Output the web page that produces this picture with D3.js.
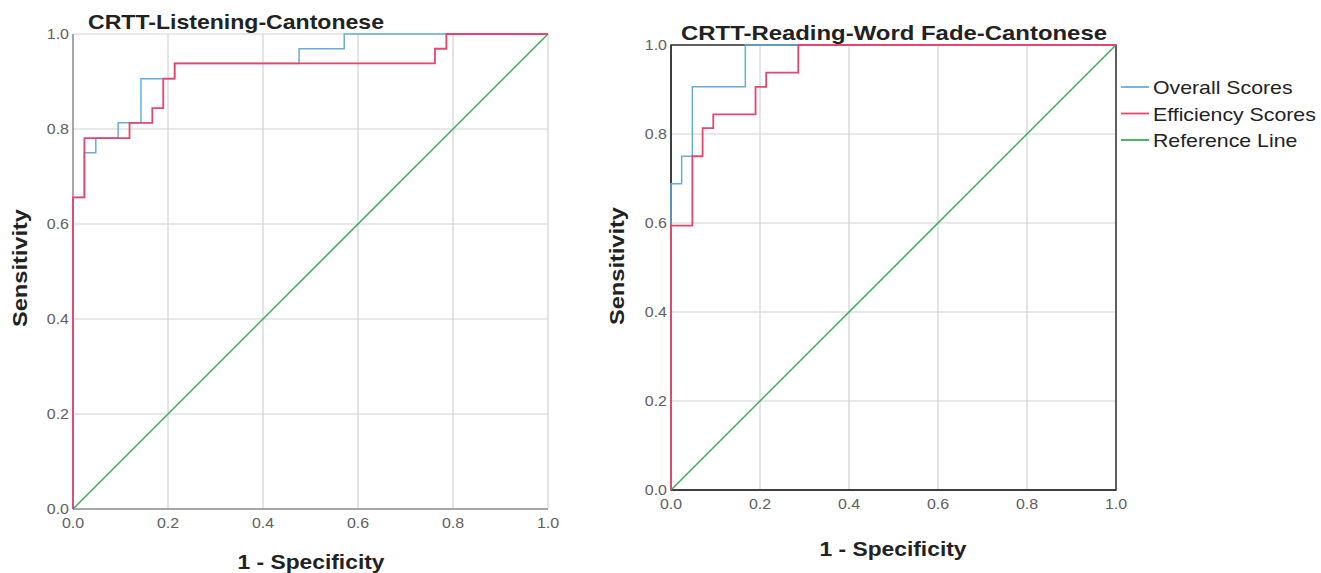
<!DOCTYPE html>
<html>
<head>
<meta charset="utf-8">
<script src="https://cdn.jsdelivr.net/npm/d3@7"></script>
<style>
  body { margin: 0; background: #fff; }
  svg { display: block; }
  text { font-family: "Liberation Sans", Arial, sans-serif; }
</style>
</head>
<body>
<svg id="chart" width="1321" height="573"></svg>
<script>
// ROC curve corner points (1 - specificity, sensitivity), drawn as step-after
const leftOverallX = [0, 0, 0.024, 0.048, 0.095, 0.143, 0.214, 0.476, 0.571, 1];
const leftOverallY = [0, 0.656, 0.75, 0.781, 0.813, 0.906, 0.938, 0.969, 1, 1];
const leftEffX = [0, 0, 0.024, 0.119, 0.167, 0.19, 0.214, 0.762, 0.786, 1];
const leftEffY = [0, 0.656, 0.781, 0.813, 0.844, 0.906, 0.938, 0.969, 1, 1];

const rightOverallX = [0, 0, 0.024, 0.048, 0.167, 1];
const rightOverallY = [0, 0.688, 0.75, 0.906, 1, 1];
const rightEffX = [0, 0, 0.048, 0.071, 0.095, 0.19, 0.214, 0.286, 1];
const rightEffY = [0, 0.594, 0.75, 0.813, 0.844, 0.906, 0.938, 1, 1];

const refLine = [0, 1];
const ticks = [0, 0.2, 0.4, 0.6, 0.8, 1.0];
const legendNames = ["Overall Scores", "Efficiency Scores", "Reference Line"];

const colors = { overall: "#68acdc", eff: "#e8456e", ref: "#3aaa5c" };

const svg = d3.select("#chart");

function zip(xs, ys) {
  return xs.map((x, i) => [x, ys[i]]);
}

// allarga il testo in orizzontale (il font originale è più largo)
function widen(sel, k) {
  sel.each(function () {
    const w = this.getComputedTextLength();
    d3.select(this)
      .attr("textLength", w * k)
      .attr("lengthAdjust", "spacingAndGlyphs");
  });
}

// disegna un pannello ROC
function drawPanel(p) {
  const x = d3.scaleLinear().domain([0, 1]).range([p.x0, p.x1]);
  const y = d3.scaleLinear().domain([0, 1]).range([p.y0, p.y1]);
  const g = svg.append("g");

  // griglia
  g.append("g").selectAll("line.v")
    .data(ticks.slice(1))
    .join("line")
    .attr("x1", d => x(d)).attr("x2", d => x(d))
    .attr("y1", p.y0).attr("y2", p.y1)
    .style("stroke", "#d2d2d2").style("stroke-width", 1.2);
  g.append("g").selectAll("line.h")
    .data(ticks.slice(1))
    .join("line")
    .attr("x1", p.x0).attr("x2", p.x1)
    .attr("y1", d => y(d)).attr("y2", d => y(d))
    .style("stroke", "#d2d2d2").style("stroke-width", 1.2);

  // assi
  g.append("line")
    .attr("x1", p.x0).attr("x2", p.x0).attr("y1", p.y0).attr("y2", p.y1)
    .style("stroke", p.axisColor).style("stroke-width", 1.5);
  g.append("line")
    .attr("x1", p.x0).attr("x2", p.x1).attr("y1", p.y0).attr("y2", p.y0)
    .style("stroke", p.axisColor).style("stroke-width", 1.5);
  if (p.frame) {
    g.append("rect")
      .attr("x", p.x0).attr("y", p.y1)
      .attr("width", p.x1 - p.x0).attr("height", p.y0 - p.y1)
      .style("fill", "none").style("stroke", p.axisColor).style("stroke-width", 1.5);
  }

  // tick labels
  g.append("g").selectAll("text")
    .data(ticks)
    .join("text")
    .attr("x", p.x0 - 4)
    .attr("y", d => y(d) + 5)
    .attr("text-anchor", "end")
    .style("font-size", "14.5px")
    .style("fill", "#606060")
    .text(d => d.toFixed(1))
    .call(widen, 1.1);
  g.append("g").selectAll("text")
    .data(ticks)
    .join("text")
    .attr("x", d => x(d))
    .attr("y", p.y0 + p.xTickDy)
    .attr("text-anchor", "middle")
    .style("font-size", "14.5px")
    .style("fill", "#606060")
    .text(d => d.toFixed(1))
    .call(widen, 1.1);

  const line = d3.line()
    .x(d => x(d[0]))
    .y(d => y(d[1]))
    .curve(d3.curveStepAfter);

  // reference line
  g.append("path")
    .datum(zip(refLine, refLine))
    .attr("d", d3.line().x(d => x(d[0])).y(d => y(d[1])))
    .style("fill", "none").style("stroke", colors.ref).style("stroke-width", 1.5);

  g.append("path")
    .datum(zip(p.overallX, p.overallY))
    .attr("d", line)
    .style("fill", "none").style("stroke", colors.overall).style("stroke-width", 1.5);

  g.append("path")
    .datum(zip(p.effX, p.effY))
    .attr("d", line)
    .style("fill", "none").style("stroke", colors.eff).style("stroke-width", 1.8);

  // titolo
  g.append("text")
    .attr("x", p.titleX)
    .attr("y", p.titleY)
    .attr("text-anchor", "start")
    .attr("textLength", p.titleW)
    .attr("lengthAdjust", "spacingAndGlyphs")
    .style("font-size", "21px")
    .style("font-weight", "bold")
    .style("fill", "#222")
    .text(p.title);

  // etichette assi
  g.append("text")
    .attr("transform", "translate(" + p.yLabelX + "," + p.yLabelY + ") rotate(-90)")
    .attr("text-anchor", "middle")
    .attr("textLength", 118)
    .attr("lengthAdjust", "spacingAndGlyphs")
    .style("font-size", "20px")
    .style("font-weight", "bold")
    .style("fill", "#222")
    .text("Sensitivity");
  g.append("text")
    .attr("x", p.xLabelX)
    .attr("y", p.xLabelY)
    .attr("text-anchor", "middle")
    .attr("textLength", 147)
    .attr("lengthAdjust", "spacingAndGlyphs")
    .style("font-size", "20px")
    .style("font-weight", "bold")
    .style("fill", "#222")
    .text("1 - Specificity");
}

drawPanel({
  x0: 73, x1: 548, y0: 509, y1: 34,
  axisColor: "#8a8a8a", frame: false, xTickDy: 19,
  overallX: leftOverallX, overallY: leftOverallY,
  effX: leftEffX, effY: leftEffY,
  title: "CRTT-Listening-Cantonese", titleX: 88, titleY: 29, titleW: 296,
  yLabelX: 27, yLabelY: 268, xLabelX: 311, xLabelY: 569
});

drawPanel({
  x0: 671, x1: 1116, y0: 490, y1: 45,
  axisColor: "#333", frame: true, xTickDy: 19,
  overallX: rightOverallX, overallY: rightOverallY,
  effX: rightEffX, effY: rightEffY,
  title: "CRTT-Reading-Word Fade-Cantonese", titleX: 681, titleY: 40, titleW: 426,
  yLabelX: 624, yLabelY: 266, xLabelX: 893, xLabelY: 556
});

// legenda
const legendColors = [colors.overall, colors.eff, colors.ref];
const legend = svg.append("g");
legendNames.forEach((name, i) => {
  const ly = 87 + i * 26.5;
  legend.append("line")
    .attr("x1", 1121).attr("x2", 1149)
    .attr("y1", ly).attr("y2", ly)
    .style("stroke", legendColors[i]).style("stroke-width", 1.8);
  legend.append("text")
    .attr("x", 1153)
    .attr("y", ly + 7)
    .style("font-size", "18.5px")
    .style("fill", "#222")
    .text(name)
    .call(widen, 1.15);
});
</script>
</body>
</html>
